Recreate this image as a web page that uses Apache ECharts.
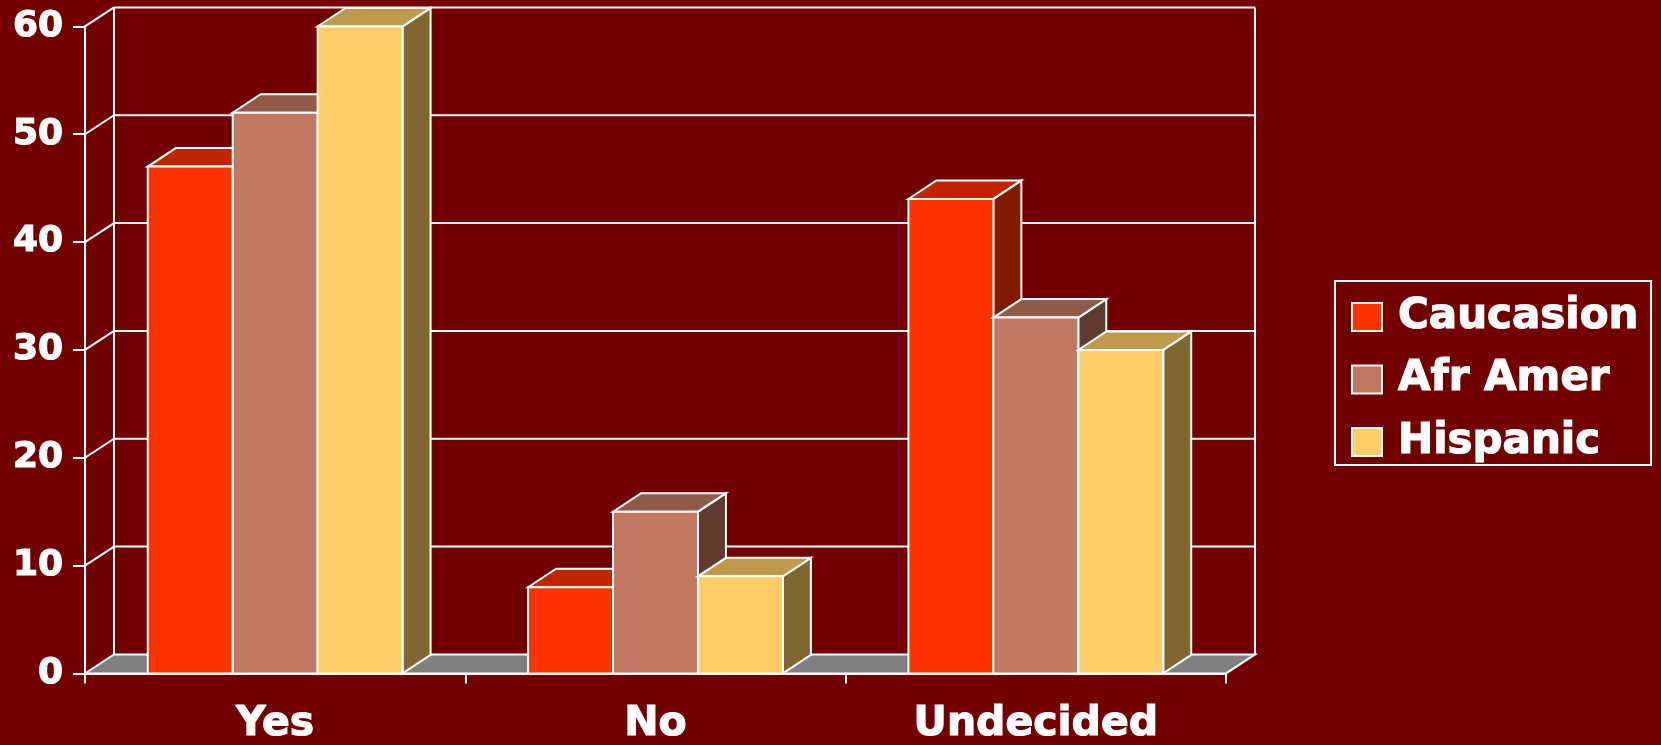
<!DOCTYPE html>
<html>
<head>
<meta charset="utf-8">
<title>Yes / No / Undecided by group</title>
<script src="https://cdn.jsdelivr.net/npm/echarts@6/dist/echarts.min.js"></script>
<style>
  html, body { margin: 0; padding: 0; background: #720000; }
  #chart { width: 1661px; height: 745px; }
</style>
</head>
<body>
<div id="chart"></div>
<script>
// ---- data ----
const CATEGORIES = ['Yes', 'No', 'Undecided'];
const SERIES_NAMES = ['Caucasion', 'Afr Amer', 'Hispanic'];
const CAUCASION = [47, 8, 44];
const AFR_AMER = [52, 15, 33];
const HISPANIC = [60, 9, 30];
const Y_TICKS = [0, 10, 20, 30, 40, 50, 60];

// ---- styling ----
const BG = '#720000';
const FONT = 'DejaVu Sans';
const FRONT = ['#FF3300', '#C07860', '#FFCC66'];
const TOP = ['#BF2600', '#905A48', '#BF994C'];
const SIDE = ['#801A00', '#603C30', '#806633'];
const BAR_DEPTH = [28, -18.5];   // pixel offset of a bar's back face
const WALL_DEPTH = [29, -19];    // pixel offset of the back wall
const BAR_RATIO = 0.2233;        // bar width as a share of the category band
const EDGE = { stroke: '#ffffff', lineWidth: 2, lineJoin: 'miter' };
const HEAVY = { textBorderColor: '#ffffff', textBorderWidth: 1.2 };

const chart = echarts.init(document.getElementById('chart'), null, { renderer: 'canvas' });

// Back wall grid lines, left side wall and the grey floor
function renderFrame(params, api) {
  const v = api.value(0);
  const band = api.size([1, 0])[0];
  const p0 = api.coord([0, v]);
  const pN = api.coord([CATEGORIES.length - 1, v]);
  const L = p0[0] - band / 2;
  const R = pN[0] + band / 2;
  const y = p0[1];
  const [dx, dy] = WALL_DEPTH;
  const children = [];
  if (v === Y_TICKS[0]) {
    const yTop = api.coord([0, Y_TICKS[Y_TICKS.length - 1]])[1];
    children.push({
      type: 'polygon',
      shape: { points: [[L, y], [R, y], [R + dx, y + dy], [L + dx, y + dy]] },
      style: { fill: '#808080', stroke: '#ffffff', lineWidth: 2 }
    });
    children.push({
      type: 'line',
      shape: { x1: L + dx, y1: y + dy, x2: L + dx, y2: yTop + dy },
      style: { stroke: '#ffffff', lineWidth: 2 }
    });
    children.push({
      type: 'line',
      shape: { x1: R + dx, y1: y + dy, x2: R + dx, y2: yTop + dy },
      style: { stroke: '#ffffff', lineWidth: 2 }
    });
  } else {
    children.push({
      type: 'line',
      shape: { x1: L, y1: y, x2: L + dx, y2: y + dy },
      style: { stroke: '#ffffff', lineWidth: 2 }
    });
    children.push({
      type: 'line',
      shape: { x1: L + dx, y1: y + dy, x2: R + dx, y2: y + dy },
      style: { stroke: '#ffffff', lineWidth: 2 }
    });
  }
  return { type: 'group', children };
}

// A box-shaped bar: right side, top and front face
function makeBarRenderer(k) {
  return function (params, api) {
    const ci = api.value(0);
    const v = api.value(1);
    const base = api.coord([ci, 0]);
    const top = api.coord([ci, v]);
    const band = api.size([1, 0])[0];
    const bw = band * BAR_RATIO;
    const x0 = base[0] + (k - 1) * bw - bw / 2;
    const x1 = x0 + bw;
    const yb = base[1];
    const yt = top[1];
    const [dx, dy] = BAR_DEPTH;
    return {
      type: 'group',
      children: [
        {
          type: 'polygon',
          shape: { points: [[x1, yt], [x1 + dx, yt + dy], [x1 + dx, yb + dy], [x1, yb]] },
          style: Object.assign({ fill: SIDE[k] }, EDGE)
        },
        {
          type: 'polygon',
          shape: { points: [[x0, yt], [x1, yt], [x1 + dx, yt + dy], [x0 + dx, yt + dy]] },
          style: Object.assign({ fill: TOP[k] }, EDGE)
        },
        {
          type: 'rect',
          shape: { x: x0, y: yt, width: bw, height: yb - yt },
          style: Object.assign({ fill: FRONT[k] }, EDGE)
        }
      ]
    };
  };
}

const VALUES = [CAUCASION, AFR_AMER, HISPANIC];

const barSeries = SERIES_NAMES.map((name, k) => ({
  name,
  type: 'custom',
  coordinateSystem: 'cartesian2d',
  renderItem: makeBarRenderer(k),
  itemStyle: { color: FRONT[k] },
  encode: { x: 0, y: 1 },
  data: VALUES[k].map((v, i) => [i, v]),
  clip: false,
  z: 3
}));

const option = {
  backgroundColor: BG,
  animation: false,
  textStyle: { fontFamily: FONT },
  grid: { left: 85, right: 435, top: 26.4, bottom: 70, containLabel: false },
  legend: {
    orient: 'vertical',
    left: 1335,
    top: 281,
    padding: [14, 12, 1, 16],
    itemGap: 18.5,
    itemWidth: 30,
    itemHeight: 28,
    icon: 'rect',
    borderColor: '#ffffff',
    borderWidth: 2,
    borderRadius: 0,
    itemStyle: { borderColor: '#ffffff', borderWidth: 2 },
    textStyle: Object.assign({
      color: '#ffffff', fontSize: 42, fontWeight: 'bold', fontFamily: FONT,
      lineHeight: 44, padding: [0, 0, 0, 11]
    }, HEAVY),
    selectedMode: false,
    data: SERIES_NAMES
  },
  xAxis: {
    type: 'category',
    data: CATEGORIES,
    boundaryGap: true,
    axisLine: { show: true, lineStyle: { color: '#ffffff', width: 2 } },
    axisTick: { show: true, length: 10, alignWithLabel: false, lineStyle: { color: '#ffffff', width: 2 } },
    axisLabel: Object.assign({ color: '#ffffff', fontSize: 41, fontWeight: 'bold', fontFamily: FONT, margin: 30 }, HEAVY),
    splitLine: { show: false }
  },
  yAxis: {
    type: 'value',
    min: 0,
    max: 60,
    interval: 10,
    axisLine: { show: true, lineStyle: { color: '#ffffff', width: 2 } },
    axisTick: { show: true, length: 12, lineStyle: { color: '#ffffff', width: 2 } },
    axisLabel: Object.assign({ color: '#ffffff', fontSize: 36, fontWeight: 'bold', fontFamily: FONT, margin: 22, padding: [3, 0, 0, 0] }, HEAVY),
    splitLine: { show: false }
  },
  series: [
    {
      name: 'frame',
      type: 'custom',
      coordinateSystem: 'cartesian2d',
      renderItem: renderFrame,
      encode: { y: 0 },
      data: Y_TICKS.map(v => [v]),
      clip: false,
      silent: true,
      z: 1
    }
  ].concat(barSeries)
};

chart.setOption(option);
</script>
</body>
</html>
